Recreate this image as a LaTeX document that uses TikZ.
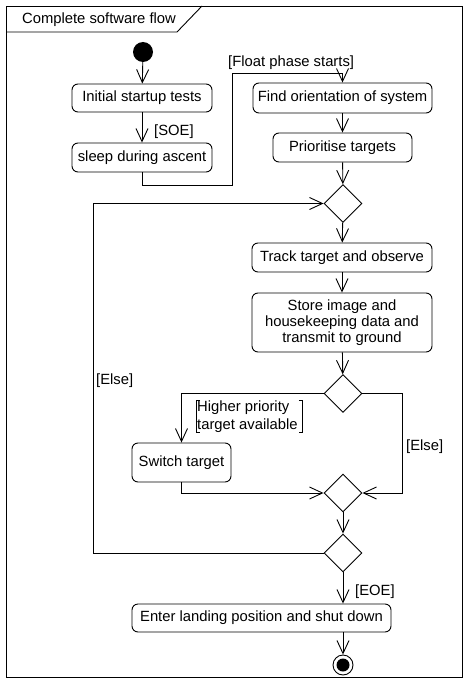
\documentclass[tikz,border=0pt]{standalone}
\usepackage{fontspec}
\setmainfont{Liberation Sans}
\usetikzlibrary{shapes.geometric,arrows.meta}
\tikzset{
  act/.style={draw, rounded corners=6pt, line width=0.9pt, inner sep=0pt, align=center},
  dec/.style={draw, diamond, minimum width=38pt, minimum height=38pt, inner sep=0pt, line width=0.9pt},
  arr/.style={line width=0.9pt, -{Straight Barb[length=13pt,width=12pt,line width=0.9pt]}},
  ln/.style={line width=0.9pt},
  lbl/.style={inner sep=0pt, anchor=west},
}
\begin{document}
\begin{tikzpicture}[x=1pt,y=-1pt,font=\fontsize{14.8}{15.8}\selectfont]
\useasboundingbox (0,0) rectangle (469,685);
% frame
\draw[ln] (6,6) rectangle (462,677);
\draw[ln] (6,32) -- (177,32) -- (202,6);
\node[inner sep=0pt] (title) at (99,20) {Complete software flow};
% nodes
\node[circle, fill=black, minimum size=20pt, inner sep=0pt] (init) at (143,52) {};
\node[act, minimum width=140pt, minimum height=28pt] (startup) at (142,98) {Initial startup tests};
\node[act, minimum width=140pt, minimum height=29pt] (sleep) at (142,157.5) {sleep during ascent};
\node[act, minimum width=179pt, minimum height=30pt] (find) at (342.5,98) {Find orientation of system};
\node[act, minimum width=139pt, minimum height=29pt] (prio) at (342.5,147.5) {Prioritise targets};
\node[dec] (d1) at (343,203.5) {};
\node[act, minimum width=180pt, minimum height=29pt] (track) at (342,257.5) {Track target and observe};
\node[act, minimum width=180pt, minimum height=59pt] (store) at (342,322.5) {Store image and\\housekeeping data and\\transmit to ground};
\node[dec] (d2) at (343,393.5) {};
\node[act, minimum width=99pt, minimum height=39pt] (switch) at (181.5,462.5) {Switch target};
\node[dec] (d3) at (343,493) {};
\node[dec] (d4) at (343,553) {};
\node[act, minimum width=259pt, minimum height=28pt] (land) at (261.5,618) {Enter landing position and shut down};
\node[circle, draw, line width=0.9pt, minimum size=20pt, inner sep=0pt,
  path picture={\fill (path picture bounding box.center) circle (6.5pt);}] (final) at (343,665) {};
% connectors
\draw[arr] (init) -- (startup);
\draw[arr] (startup) -- (sleep);
\node[lbl] (soe) at (154,132) {[SOE]};
\coordinate (c1) at (232,185);
\coordinate (c2) at (232,73);
\draw[arr] (sleep.south) |- (c1) -- (c2) -| (find.north);
\node[lbl] (float) at (228,63) {[Float phase starts]};
\draw[arr] (find) -- (prio);
\draw[arr] (prio) -- (d1);
\draw[arr] (d1) -- (track);
\draw[arr] (track) -- (store);
\draw[arr] (store) -- (d2);
\draw[arr] (d2.west) -| (switch.north);
\node[lbl, align=left, font=\fontsize{14.8}{17.5}\selectfont] (hp) at (197,416.5) {Higher priority\\target available};
\draw[ln, line width=0.7pt] ([xshift=3pt]hp.north west) -- ++(-4,0) -- ([xshift=-1pt]hp.south west) -- ++(4,0);
\draw[ln, line width=0.7pt] ([xshift=1pt]hp.north east) -- ++(4,0) -- ([xshift=5pt]hp.south east) -- ++(-4,0);
\coordinate (c3) at (402,393.5);
\draw[arr] (d2.east) -- (c3) |- (d3.east);
\node[lbl] (else1) at (406,447) {[Else]};
\draw[arr] (switch.south) |- (d3.west);
\draw[arr] (d3) -- (d4);
\coordinate (c4) at (93,553);
\draw[arr] (d4.west) -- (c4) |- (d1.west);
\node[lbl] (else2) at (96,381) {[Else]};
\draw[arr] (d4.south) -- (d4.south |- land.north);
\node[lbl] (eoe) at (355,592) {[EOE]};
\draw[arr] (d4.south |- land.south) -- (final.north);
\end{tikzpicture}
\end{document}
